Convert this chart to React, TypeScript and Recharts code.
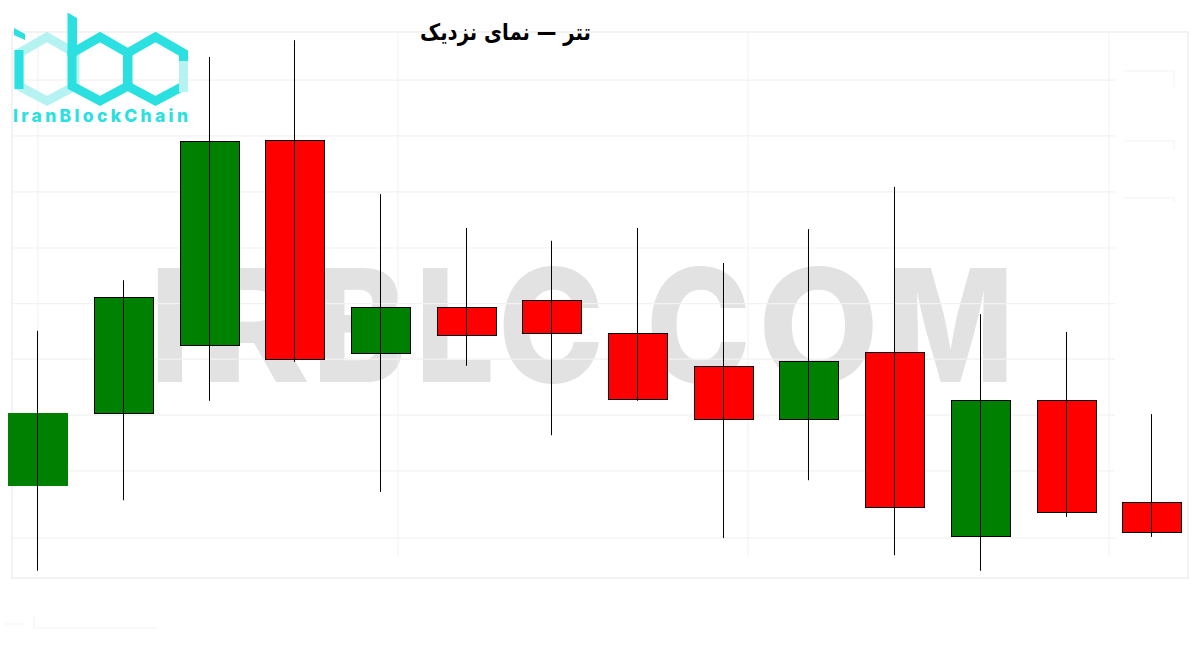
import React from "react";
import { ComposedChart, Bar, XAxis, YAxis, ReferenceLine } from "recharts";

const categories = ["1","2","3","4","5","6","7","8","9","10","11","12","13","14"];
const opens  = [27094,27223,27346,27716,27331,27416,27428,27369,27310,27212,27335,27002,27248,27065];
const closes = [27225,27434,27715,27320,27416,27364,27367,27248,27212,27319,27054,27248,27045,27009];
const highs  = [27373,27464,27866,27896,27619,27558,27535,27558,27495,27556,27632,27403,27371,27223];
const lows   = [26941,27068,27247,27317,27083,27310,27185,27247,27000,27104,26969,26941,27038,27002];
const gridValues = [27824,27724,27623,27522,27422,27322,27221,27121,27000];
const yDomain = [26798.4, 27968.4];

const UP = "#008000";
const DOWN = "#ff0000";
const data = categories.map((c, i) => ({
  c, open: opens[i], close: closes[i], high: highs[i], low: lows[i], range: [lows[i], highs[i]],
}));

const OFFSET_X = -5;
const CHART_W = 1199.7;

function Candle(props: any) {
  const { x, y, width, height, payload, index } = props;
  const k = height / (payload.high - payload.low);
  const cx = Math.round(x + width / 2 + 0.2);
  const yOf = (v: number) => y + (payload.high - v) * k;
  const top = Math.round(yOf(Math.max(payload.open, payload.close))) + 0.5;
  const bottom = Math.round(yOf(Math.min(payload.open, payload.close))) - 0.5;
  const up = payload.close >= payload.open;
  const noEdge = index === 0;
  return (
    <g>
      <rect
        x={cx - 29.5}
        y={top}
        width={59}
        height={bottom - top}
        fill={up ? UP : DOWN}
        stroke={noEdge ? up ? UP : DOWN : "#000"}
        strokeWidth={1}
      />
      <line x1={cx - 0.5} x2={cx - 0.5} y1={y} y2={y + height} stroke="#000" strokeWidth={1} />
    </g>
  );
}

function GridLine(props: any) {
  const y = props.y1 ?? props.y;
  return <line x1={12 - OFFSET_X} x2={1115 - OFFSET_X} y1={y} y2={y} stroke="#f2f2f2" strokeWidth={1.2} />;
}

const fill = { position: "absolute", left: 0, top: 0 } as const;

const watermark = [
  { ch: "I", x: 156, w: 28 },
  { ch: "R", x: 207, w: 97 },
  { ch: "B", x: 318, w: 82 },
  { ch: "L", x: 421, w: 68 },
  { ch: "C", x: 504, w: 94 },
  { ch: "C", x: 652, w: 93 },
  { ch: "O", x: 764, w: 109 },
  { ch: "M", x: 893, w: 115 },
];

function Background() {
  return (
    <svg width={1200} height={650} style={fill}>
      {watermark.map((l, i) => (
        <text
          key={i}
          x={l.x - 6}
          y={382}
          textLength={l.w + 12}
          lengthAdjust="spacingAndGlyphs"
          fontFamily="Inter"
          fontWeight={800}
          fontSize={157}
          fill="#e2e2e2"
        >
          {l.ch}
        </text>
      ))}
      <rect x={12} y={32} width={1176} height={546} fill="none" stroke="#f3f3f3" strokeWidth={2} />
      {[38, 398, 748, 1109].map((x) => (
        <line key={x} x1={x} x2={x} y1={32} y2={556} stroke="#f1f1f1" strokeWidth={1} />
      ))}
      <path d="M1125 71H1174V87M1125 141H1174V150M1125 198H1174V202" fill="none" stroke="#f3f3f3" strokeWidth={1.2} />
      <path d="M34 615V628H157M5 624H26" fill="none" stroke="#f3f3f3" strokeWidth={1.2} />
    </svg>
  );
}

function hex(cx: number) {
  return `${cx},37 ${cx + 28},53 ${cx + 28},86 ${cx},101 ${cx - 28},86 ${cx - 28},53`;
}

function Overlay() {
  const dark = "#2be0e0";
  const light = "#b5f2f2";
  return (
    <svg width={1200} height={650} style={{ ...fill, pointerEvents: "none" }}>
      <polygon points={hex(47)} fill="none" stroke={light} strokeWidth={9} />
      <line x1={19} x2={19} y1={50} y2={89} stroke={dark} strokeWidth={9} />
      <polygon points="14,28 25,34 25,40 14,35" fill={dark} />
      <polygon points={hex(100)} fill="none" stroke={dark} strokeWidth={9} />
      <polygon points="67.5,12.5 77,18 77,56 67.5,56" fill={dark} />
      <polygon points={hex(155.5)} fill="none" stroke={dark} strokeWidth={9} />
      <line x1={183.5} x2={183.5} y1={61} y2={92} stroke={light} strokeWidth={9} />
      <text x={13} y={122} fontFamily="Inter" fontWeight={800} fontSize={17.5} fill={dark} textLength={175} lengthAdjust="spacing">
        IranBlockChain
      </text>
      <text transform="translate(505.5 40) scale(0.855 1)" textAnchor="middle" direction="rtl" fontFamily="DejaVu Sans" fontWeight={700} fontSize={23} fill="#000">
        تتر — نمای نزدیک
      </text>
    </svg>
  );
}

export default function App() {
  return (
    <div style={{ position: "absolute", left: 0, top: 0, width: 1200, height: 650, background: "#fff", overflow: "hidden" }}>
      <Background />
      <div style={{ position: "absolute", left: OFFSET_X, top: 0 }}>
        <ComposedChart width={CHART_W} height={650} data={data} margin={{ top: 0, right: 0, bottom: 0, left: 0 }}>
          <XAxis dataKey="c" hide />
          <YAxis hide type="number" domain={yDomain} allowDataOverflow />
          {gridValues.map((v) => (
            <ReferenceLine key={v} y={v} shape={GridLine} />
          ))}
        </ComposedChart>
      </div>
      <div style={{ position: "absolute", left: OFFSET_X, top: 0 }}>
        <ComposedChart width={CHART_W} height={650} data={data} margin={{ top: 0, right: 0, bottom: 0, left: 0 }}>
          <XAxis dataKey="c" hide />
          <YAxis hide type="number" domain={yDomain} allowDataOverflow />
          <Bar dataKey="range" barSize={60} isAnimationActive={false} shape={Candle} />
        </ComposedChart>
      </div>
      <Overlay />
    </div>
  );
}
